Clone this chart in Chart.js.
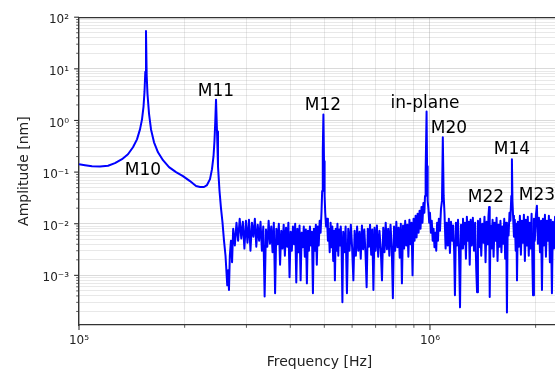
<!DOCTYPE html>
<html>
<head>
<meta charset="utf-8">
<script src="https://cdn.jsdelivr.net/npm/chart.js@4.4.0/dist/chart.umd.min.js"></script>
<style>
  html, body { margin: 0; padding: 0; overflow: hidden; background: #fff; }
</style>
</head>
<body>
<canvas id="grafico" width="560" height="369"></canvas>
<script>
// Espectro de amplitud (frecuencia en kHz, amplitud en nm)
const resonanceKHz = [100, 104, 108.9, 114.8, 121, 126.6, 132.6, 137.9, 142.5, 146.3,
  149.2, 151.2, 152.7, 153.7, 154.5, 155.2, 155.9, 156.7, 158.3, 160.4,
  163.6, 167.9, 173.5, 180.5, 189, 197.8, 207.1, 215.5, 221.2, 227.1,
  231.6, 236.2, 239.3, 241.7, 243.2, 244.5, 245.7, 247.3, 248.9, 251.4,
  253.8, 256.4, 258.9, 261.5];
const resonanceNm = [0.142, 0.136, 0.130, 0.128, 0.133, 0.149, 0.178, 0.222, 0.303, 0.431,
  0.671, 1.05, 1.86, 3.61, 8.76, 53.8, 7.5, 3.31, 1.36, 0.671,
  0.378, 0.242, 0.170, 0.125, 0.0999, 0.0837, 0.067, 0.0537, 0.0514, 0.0514,
  0.0561, 0.0732, 0.114, 0.203, 0.395, 0.957, 2.53, 0.614, 0.130, 0.0431,
  0.0203, 0.0105, 0.0047, 0.0024];

const floorLowKHz = [264.5, 266, 267.5, 269, 271, 273, 275, 278, 281, 284, 287, 290, 293, 296, 299,
  302, 305, 308, 311, 314, 317, 320, 323, 326, 329, 332, 335, 338, 341, 344, 347, 350, 353, 356,
  359, 362, 365, 368, 371, 374, 377, 380, 383, 386, 389, 392, 395, 398, 401, 404, 407, 410, 413,
  416, 419, 422, 425, 428, 431, 434, 437, 440, 443, 446, 449, 452, 455, 458, 461, 464, 467, 470,
  473, 476, 479, 482, 485, 488];
const floorLowNm = [0.00064, 0.00125, 0.00052, 0.0024, 0.0047, 0.0018, 0.008,
  0.0038, 0.0105, 0.0047, 0.0125, 0.0052, 0.0109, 0.0033, 0.0114, 0.0043, 0.0119,
  0.003, 0.0105, 0.0056, 0.0125, 0.0036, 0.0096, 0.0047, 0.0109, 0.003, 0.0088,
  0.00039, 0.0077, 0.0036, 0.0114, 0.0041, 0.0088, 0.0028, 0.0105, 0.00045, 0.008,
  0.004, 0.01, 0.0016, 0.0073, 0.0033, 0.0096, 0.0024, 0.0084, 0.0036, 0.0105,
  0.00092, 0.007, 0.003, 0.0088, 0.004, 0.01, 0.00073, 0.008, 0.0028, 0.0092,
  0.0008, 0.0067, 0.0035, 0.0088, 0.0023, 0.0077, 0.0007, 0.0073, 0.003, 0.0088,
  0.0038, 0.007, 0.00045, 0.008, 0.003, 0.0096, 0.0016, 0.0088, 0.0038, 0.0114,
  0.0067];

const m12KHz = [491, 493, 495, 497, 499, 501, 503, 506];
const m12Nm = [0.0178, 0.0431, 0.253, 1.30, 0.163, 0.0346, 0.0163, 0.0088];

const floorMidKHz = [509, 512, 515, 518, 521, 524, 527, 530, 533, 536, 539, 542, 545, 548, 551, 554,
  557, 560, 563, 566, 570, 575, 580, 585, 590, 595, 600, 605, 610, 615, 620, 625, 630, 635, 640,
  645, 650, 655, 660, 665, 670, 675, 680, 685, 690, 695, 700, 706, 712, 718, 724, 730, 736, 742,
  748, 754, 760, 766, 772, 778, 784, 790, 796, 802, 808, 814, 820, 826, 832, 838, 844, 850, 856,
  862, 868, 874, 880, 886, 892, 898, 904, 910, 916, 922, 928, 934, 940, 946, 952, 958, 964, 968, 972];
const floorMidNm = [0.0125, 0.0047, 0.008, 0.0028, 0.0105, 0.0035, 0.0088, 0.0019, 0.0073, 0.0008,
  0.008, 0.003, 0.01, 0.0024, 0.0077, 0.0038, 0.0088, 0.0033, 0.0003, 0.007,
  0.0028, 0.0088, 0.00045, 0.008, 0.003, 0.0096, 0.0035, 0.0008, 0.0073, 0.0024,
  0.0088, 0.003, 0.007, 0.0021, 0.0092, 0.0032, 0.0077, 0.0028, 0.00059, 0.008,
  0.0036, 0.0096, 0.0025, 0.0077, 0.00052, 0.0084, 0.003, 0.0092, 0.0023, 0.0073,
  0.0033, 0.0008, 0.0084, 0.0028, 0.0105, 0.0032, 0.008, 0.0024, 0.0096, 0.0036,
  0.00036, 0.0088, 0.003, 0.0109, 0.0035, 0.0084, 0.0022, 0.01, 0.0007, 0.0092,
  0.0033, 0.0114, 0.0038, 0.0096, 0.0023, 0.0119, 0.004, 0.0105, 0.001, 0.0125,
  0.0047, 0.0143, 0.0054, 0.0156, 0.0067, 0.0178, 0.008, 0.0212, 0.0105, 0.0253,
  0.0163, 0.0346, 0.105];

const inPlaneKHz = [978, 981, 985, 990, 995, 1000, 1006, 1012, 1018, 1024, 1030, 1036, 1042, 1048,
  1054, 1060, 1068, 1075, 1082, 1088, 1094, 1100, 1108];
const inPlaneNm = [1.49, 0.130, 0.0277, 0.0194, 0.0105, 0.0163, 0.0067, 0.0114, 0.0047, 0.0080,
  0.0035, 0.0067, 0.0030, 0.0105, 0.0047, 0.0125, 0.0073, 0.0194, 0.0277, 0.471, 0.0346, 0.0163, 0.0033];

const floorHighKHz = [1116, 1124, 1132, 1140, 1148, 1156, 1164, 1172, 1178, 1186, 1194, 1202, 1210,
  1218, 1226, 1234, 1242, 1250, 1258, 1266, 1274, 1282, 1290, 1298, 1306, 1315, 1325, 1335, 1345,
  1355, 1362, 1370, 1380, 1390, 1400, 1410, 1420, 1430, 1440, 1450, 1460, 1468, 1474, 1480, 1488,
  1498, 1508, 1518, 1528, 1538, 1548, 1558, 1568, 1578, 1588, 1598, 1608, 1618, 1628, 1638, 1648,
  1657, 1665, 1675, 1685, 1695, 1705, 1712, 1718, 1725, 1735, 1745, 1755, 1763, 1770, 1780, 1792,
  1804, 1816, 1828, 1840, 1852, 1864, 1876, 1888, 1900, 1912, 1924, 1936, 1948, 1960, 1966, 1978,
  1990, 2004, 2017, 2030, 2044, 2058, 2072, 2085, 2098, 2112, 2126, 2140, 2154, 2168, 2182, 2196,
  2210, 2226, 2240, 2256, 2272, 2288, 2304, 2320, 2336, 2350];
const floorHighNm = [0.0105, 0.0038, 0.0125, 0.0027, 0.0109, 0.0047, 0.0092, 0.003, 0.00041, 0.0105,
  0.0038, 0.0119, 0.0028, 0.00024, 0.0096, 0.0033, 0.0125, 0.004, 0.0105, 0.0021,
  0.0136, 0.0047, 0.0109, 0.0016, 0.0119, 0.0038, 0.013, 0.003, 0.0105, 0.00125,
  0.00047, 0.0114, 0.0035, 0.0125, 0.0024, 0.01, 0.0043, 0.0136, 0.0018, 0.0109,
  0.004, 0.0143, 0.0212, 0.00038, 0.0092, 0.0033, 0.0119, 0.0023, 0.0105, 0.0047,
  0.013, 0.0019, 0.0096, 0.0036, 0.0114, 0.0028, 0.0088, 0.0041, 0.0125, 0.0021,
  0.0105, 0.00019, 0.0092, 0.0059, 0.0163, 0.0114, 0.0346, 0.178, 0.0277, 0.0143,
  0.0056, 0.0119, 0.003, 0.01, 0.0008, 0.0109, 0.0036, 0.0143, 0.0025, 0.0114,
  0.0043, 0.0149, 0.0019, 0.0119, 0.0038, 0.0136, 0.0024, 0.0105, 0.0033, 0.0156,
  0.00125, 0.00041, 0.0125, 0.0047, 0.0149, 0.0222, 0.0041, 0.013, 0.0028, 0.0114,
  0.00052, 0.0125, 0.0038, 0.0149, 0.0023, 0.0114, 0.0047, 0.0143, 0.0018, 0.0119,
  0.00045, 0.0109, 0.0033, 0.0136, 0.003, 0.0105, 0.004, 0.0125, 0.0047];

// Etiquetas de modos (texto y punto central en unidades de datos)
const peakLabels = ['M10', 'M11', 'M12', 'in-plane', 'M20', 'M22', 'M14', 'M23'];
const peakLabelKHz = [152.2, 245.7, 495.6, 968, 1133, 1444, 1712, 2018];
const peakLabelNm = [0.105, 3.6, 1.94, 2.1, 0.70, 0.0316, 0.277, 0.0345];

// Ejes
const xMajorHz = [1e5, 1e6];
const xTickLabels = ['10\u2075', '10\u2076'];
const yMajorNm = [1e-3, 1e-2, 1e-1, 1, 10, 100];
const yTickLabels = ['10\u207B\u00B3', '10\u207B\u00B2', '10\u207B\u00B9', '10\u2070', '10\u00B9', '10\u00B2'];
const X_MIN = 1e5, X_MAX = 2.347e6;
const Y_MIN = 1.093e-4, Y_MAX = 100;

const kHz = [].concat(resonanceKHz, floorLowKHz, m12KHz, floorMidKHz, inPlaneKHz, floorHighKHz);
const nm = [].concat(resonanceNm, floorLowNm, m12Nm, floorMidNm, inPlaneNm, floorHighNm);
const puntos = kHz.map((f, i) => ({ x: f * 1000, y: nm[i] }));

function ticksLog(min, max) {
  const out = [];
  for (let e = Math.floor(Math.log10(min)); e <= Math.ceil(Math.log10(max)); e++) {
    for (let m = 1; m <= 9; m++) {
      const v = m * Math.pow(10, e);
      if (v >= min * 0.999 && v <= max * 1.001) out.push({ value: v, major: m === 1 });
    }
  }
  return out;
}
function etiqueta(valores, textos) {
  return v => {
    const i = valores.findIndex(m => Math.abs(Math.log10(v / m)) < 1e-6);
    return i < 0 ? '' : textos[i];
  };
}

const xTicks = ticksLog(X_MIN, X_MAX);
const yTicks = ticksLog(Y_MIN, Y_MAX);
const gridColor = c => (c.tick && c.tick.major) ? 'rgba(150,150,150,0.45)' : 'rgba(150,150,150,0.28)';
const fuenteTicks = { family: 'DejaVu Sans', size: 12 };
const fuenteTitulo = { family: 'DejaVu Sans', size: 14, lineHeight: 1 };

// marcas de los ejes (mayores largas, menores cortas)
const marcasEje = {
  id: 'marcasEje',
  afterDraw(chart) {
    const ctx = chart.ctx, a = chart.chartArea;
    ctx.save();
    ctx.strokeStyle = '#333';
    chart.scales.x.ticks.forEach(t => {
      const px = chart.scales.x.getPixelForValue(t.value);
      ctx.lineWidth = t.major ? 1.1 : 0.8;
      ctx.beginPath(); ctx.moveTo(px, a.bottom); ctx.lineTo(px, a.bottom + (t.major ? 4.9 : 2.8)); ctx.stroke();
    });
    chart.scales.y.ticks.forEach(t => {
      const py = chart.scales.y.getPixelForValue(t.value);
      ctx.lineWidth = t.major ? 1.1 : 0.8;
      ctx.beginPath(); ctx.moveTo(a.left, py); ctx.lineTo(a.left - (t.major ? 4.9 : 2.8), py); ctx.stroke();
    });
    ctx.restore();
  }
};

const textoModos = {
  id: 'textoModos',
  afterDatasetsDraw(chart) {
    const ctx = chart.ctx;
    ctx.save();
    ctx.fillStyle = '#000';
    ctx.font = '17px "DejaVu Sans"';
    ctx.textAlign = 'center';
    ctx.textBaseline = 'middle';
    peakLabels.forEach((t, i) => {
      ctx.fillText(t, chart.scales.x.getPixelForValue(peakLabelKHz[i] * 1000),
        chart.scales.y.getPixelForValue(peakLabelNm[i]));
    });
    ctx.restore();
  }
};

new Chart(document.getElementById('grafico').getContext('2d'), {
  type: 'line',
  data: {
    datasets: [{ data: puntos, borderColor: '#0000ff', borderWidth: 2, borderJoinStyle: 'round',
      pointRadius: 0, fill: false, tension: 0 }]
  },
  options: {
    responsive: false,
    animation: false,
    layout: { padding: { top: 15, left: 0, right: 0, bottom: 0 } },
    plugins: { legend: { display: false }, tooltip: { enabled: false } },
    scales: {
      x: {
        type: 'logarithmic', position: 'bottom', min: X_MIN, max: X_MAX, bounds: 'data',
        afterBuildTicks: s => { s.ticks = xTicks.map(t => ({ ...t })); },
        afterFit: s => { s.height = 44; },
        grid: { color: gridColor, lineWidth: 0.8, drawTicks: false },
        border: { display: true, color: '#333', width: 1.3 },
        ticks: { autoSkip: false, maxRotation: 0, padding: 9, color: '#222', font: fuenteTicks,
          callback: etiqueta(xMajorHz, xTickLabels) },
        title: { display: true, text: 'Frequency [Hz]', color: '#222', font: fuenteTitulo, padding: { top: 0, bottom: 0 } }
      },
      x2: {
        type: 'logarithmic', position: 'top', min: X_MIN, max: X_MAX, display: true,
        afterFit: s => { s.height = 0; },
        grid: { display: false, drawTicks: false },
        border: { display: true, color: '#333', width: 1.3 },
        ticks: { display: false }
      },
      y: {
        type: 'logarithmic', position: 'left', min: Y_MIN, max: Y_MAX, bounds: 'data',
        afterBuildTicks: s => { s.ticks = yTicks.map(t => ({ ...t })); },
        afterFit: s => { s.width = 79; },
        grid: { color: gridColor, lineWidth: 0.8, drawTicks: false },
        border: { display: true, color: '#333', width: 1.3 },
        ticks: { autoSkip: false, padding: 10, labelOffset: 3, color: '#222', font: fuenteTicks,
          callback: etiqueta(yMajorNm, yTickLabels) },
        title: { display: true, text: 'Amplitude [nm]', color: '#222', font: fuenteTitulo, padding: { top: 17, bottom: 0 } }
      }
    }
  },
  plugins: [marcasEje, textoModos]
});
</script>
</body>
</html>
